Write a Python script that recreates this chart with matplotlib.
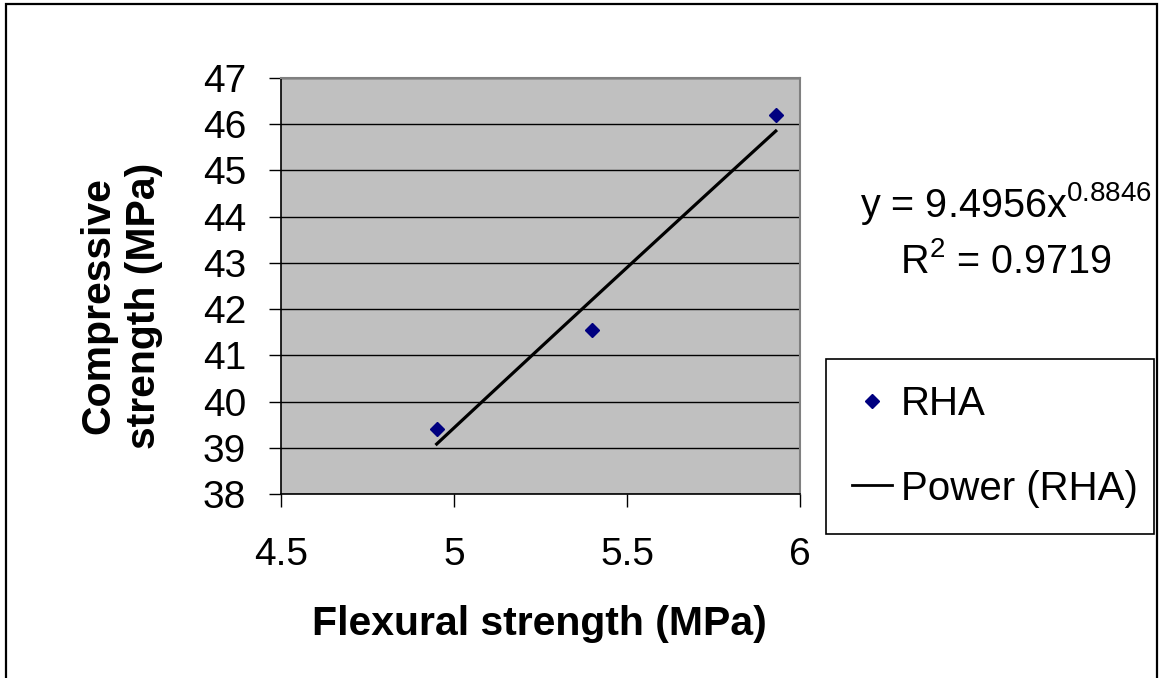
import numpy as np
import matplotlib
matplotlib.use("Agg")
import matplotlib.pyplot as plt
from matplotlib.patches import Rectangle
from matplotlib.lines import Line2D

plt.rcParams['font.family'] = ['Liberation Sans', 'DejaVu Sans']
plt.rcParams['mathtext.fontset'] = 'custom'
plt.rcParams['mathtext.rm'] = 'Liberation Sans'
plt.rcParams['mathtext.it'] = 'Liberation Sans'

# data
flexural = [4.95, 5.40, 5.93]
compressive = [39.40, 41.55, 46.20]
series_name = "RHA"

# power trend line shown on the chart: y = a * x^b
fit_a = 9.4956
fit_b = 0.8846
fit_r2 = 0.9719

xticks = [4.5, 5, 5.5, 6]
xtick_labels = ["4.5", "5", "5.5", "6"]
yticks = list(range(38, 48))

fig = plt.figure(figsize=(11.6, 6.78), dpi=100)
ax = fig.add_axes([281/1160, 1 - 494/678, (800-281)/1160, (494-78)/678])
ax.set_facecolor('#C0C0C0')

ax.plot(flexural, compressive, linestyle='none', marker='D', markersize=7,
        color='#000080', zorder=4)
xfit = np.linspace(min(flexural), max(flexural), 50)
ax.plot(xfit, fit_a * xfit ** fit_b, color='black', linewidth=2.3, zorder=3)

ax.set_xlim(4.5, 6)
ax.set_ylim(38, 47)
ax.set_xticks(xticks)
ax.set_xticklabels(xtick_labels)
ax.set_yticks(yticks)
ax.yaxis.grid(True, color='black', linewidth=1.0)
ax.set_axisbelow(True)

for s in ['top', 'right']:
    ax.spines[s].set_color('#808080')
    ax.spines[s].set_linewidth(1.5)
for s in ['left', 'bottom']:
    ax.spines[s].set_color('black')
    ax.spines[s].set_linewidth(1.2)

ax.tick_params(axis='y', length=9, width=1, pad=16, labelsize=28)
ax.tick_params(axis='x', length=9, width=1, pad=22, labelsize=28)

ax.set_xlabel("Flexural strength (MPa)", fontsize=29.5, fontweight='bold',
              va='top')
ax.xaxis.set_label_coords((539-281)/(800-281), -(605-494)/(494-78))
ax.set_ylabel("Compressive\nstrength (MPa)", fontsize=29.5, fontweight='bold',
              linespacing=1.25, va='center', ha='center')
ax.yaxis.set_label_coords(-(281-121)/(800-281), (494-306)/(494-78))

fig.text(1006/1160, 1 - 217/678, r"y = 9.4956x$^{%s}$" % fit_b,
         fontsize=28.5, ha='center', va='baseline')
fig.text(1006/1160, 1 - 273/678, r"R$^{2}$ = %s" % fit_r2,
         fontsize=28.5, ha='center', va='baseline')

handles = [Line2D([], [], linestyle='none', marker='D', markersize=7, color='#000080'),
           Line2D([], [], color='black', linewidth=2)]
leg = fig.legend(handles, [series_name, "Power (" + series_name + ")"],
                 loc='upper left',
                 bbox_to_anchor=(826/1160, 1 - 530/678, (1154-826)/1160, (530-359)/678),
                 mode='expand', fontsize=29, frameon=True, fancybox=False,
                 framealpha=1, borderpad=0.65, labelspacing=1.15, handlelength=1.0,
                 handletextpad=0.2, borderaxespad=0)
leg.get_frame().set_edgecolor('black')
leg.get_frame().set_linewidth(1.2)

fig.patches.append(Rectangle((6/1160, -0.1), (1157-6)/1160, 1 - 4/678 + 0.1,
                             transform=fig.transFigure, fill=False,
                             edgecolor='black', linewidth=1.6, clip_on=False))

fig.savefig("out.png", dpi=100)
